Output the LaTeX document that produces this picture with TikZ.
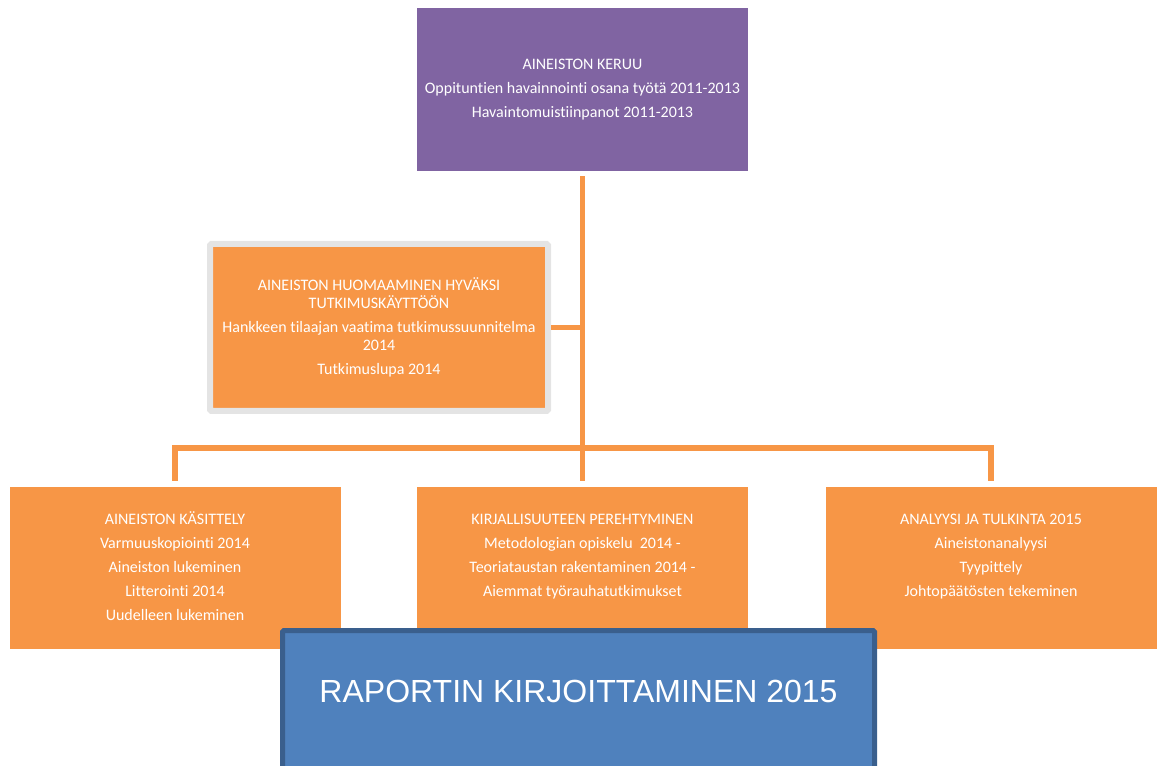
\documentclass[tikz,border=0pt]{standalone}
\usepackage{fontspec}
\setmainfont{Carlito}[Ligatures=NoCommon]
\newfontfamily\arialfont{Liberation Sans}
\usepackage{xcolor}
\usetikzlibrary{positioning}

\definecolor{keruupurple}{HTML}{8064A2}
\definecolor{boxorange}{HTML}{F79646}
\definecolor{frameGray}{HTML}{E4E4E4}
\definecolor{raporttiblue}{HTML}{4F81BD}
\definecolor{raporttiborder}{HTML}{3A5F8D}

\begin{document}
\begin{tikzpicture}[
    x=0.75pt, y=-0.75pt,
    box/.style={rectangle, fill=boxorange, minimum width=331*0.75pt, minimum height=162*0.75pt, inner sep=0pt, align=center, text=white, font=\fontsize{12}{13.5}\selectfont},
    boxtext/.style={anchor=north, align=center, text=white, inner sep=0pt, font=\fontsize{12}{13.5}\selectfont},
    link/.style={draw=boxorange, line width=4.3pt}
]
    \useasboundingbox (0,0) rectangle (1157,766);
    \clip (0,0) rectangle (1157,766);

    % upper boxes
    \node[box, fill=keruupurple, minimum height=163*0.75pt] (keruu) at (582.5,89.5) {AINEISTON KERUU\\[4.5pt]Oppituntien havainnointi osana työtä 2011-2013\\[4.5pt]Havaintomuistiinpanot 2011-2013};
    \node[box, draw=frameGray, line width=4.5pt, rounded corners=1pt, minimum width=338*0.75pt, minimum height=167*0.75pt] (huomaaminen) at (379,327.5) {AINEISTON HUOMAAMINEN HYVÄKSI\\TUTKIMUSKÄYTTÖÖN\\[4.5pt]Hankkeen tilaajan vaatima tutkimussuunnitelma\\2014\\[4.5pt]Tutkimuslupa 2014};

    % lower boxes
    \node[box] (kasittely) at (175,568) {};
    \node[box] (kirjallisuus) at (582.5,568) {};
    \node[box] (analyysi) at (991,568) {};
    \node[boxtext] (kasittelytext) at ([yshift=-25*0.75pt]kasittely.north) {\strut AINEISTON KÄSITTELY\\[4.5pt]Varmuuskopiointi 2014\\[4.5pt]Aineiston lukeminen\\[4.5pt]Litterointi 2014\\[4.5pt]Uudelleen lukeminen};
    \node[boxtext] (kirjallisuustext) at ([yshift=-25*0.75pt]kirjallisuus.north) {\strut KIRJALLISUUTEEN PEREHTYMINEN\\[4.5pt]Metodologian opiskelu~~2014 -\\[4.5pt]Teoriataustan rakentaminen 2014 -\\[4.5pt]Aiemmat työrauhatutkimukset};
    \node[boxtext] (analyysitext) at ([yshift=-25*0.75pt]analyysi.north) {\strut ANALYYSI JA TULKINTA 2015\\[4.5pt]Aineistonanalyysi\\[4.5pt]Tyypittely\\[4.5pt]Johtopäätösten tekeminen};

    % connectors
    \draw[link] ([yshift=-3.75pt]keruu.south) -- ([yshift=4.5pt]kirjallisuus.north);
    \draw[link] (huomaaminen.east) -- (huomaaminen.east -| keruu.south);
    \draw[link] ([yshift=4.5pt]kasittely.north) -- ++(0,-33) -| ([yshift=4.5pt]analyysi.north);

    % report box on top
    \node[draw=raporttiborder, fill=raporttiblue, line width=3.75pt, rounded corners=1pt, minimum width=592*0.75pt, minimum height=170*0.75pt, anchor=north west, inner sep=0pt] (raportti) at (280,628) {};
    \node[text=white, inner sep=0pt, font=\arialfont\fontsize{24}{28}\selectfont] (raporttitext) at (578.5,691) {RAPORTIN KIRJOITTAMINEN 2015};
\end{tikzpicture}
\end{document}
